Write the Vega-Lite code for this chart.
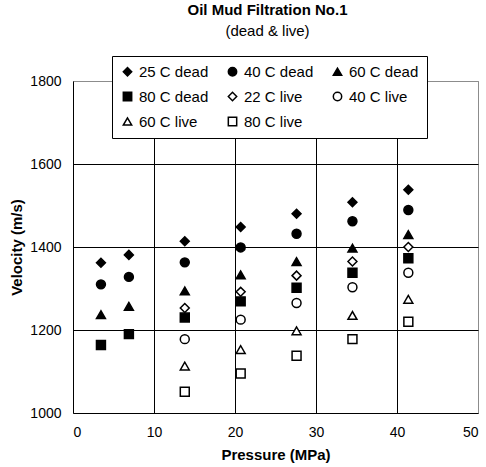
{
  "$schema": "https://vega.github.io/schema/vega-lite/v6.json",
  "width": 405,
  "height": 332,
  "autosize": {"type": "none"},
  "padding": {"left": 73, "top": 81, "right": 8, "bottom": 54},
  "background": "white",
  "title": {
    "text": "Oil Mud Filtration No.1",
    "subtitle": "(dead & live)",
    "anchor": "middle",
    "dx": -8,
    "offset": 17,
    "font": "Liberation Sans",
    "fontSize": 15,
    "fontWeight": "bold",
    "color": "black",
    "subtitleFont": "Liberation Sans",
    "subtitleFontSize": 15,
    "subtitleColor": "black",
    "subtitlePadding": 6
  },
  "config": {
    "view": {"stroke": "#8c8c8c", "strokeWidth": 1},
    "axis": {
      "labelFont": "Liberation Sans",
      "labelFontSize": 14,
      "labelColor": "black",
      "titleFont": "Liberation Sans",
      "titleFontSize": 15,
      "titleFontWeight": "bold",
      "titleColor": "black",
      "domainColor": "black",
      "domainWidth": 1,
      "ticks": false,
      "gridColor": "black",
      "gridWidth": 1,
      "gridOpacity": 1
    },
    "legend": {
      "labelFont": "Liberation Sans",
      "labelFontSize": 15,
      "labelColor": "black"
    }
  },
  "data": {
    "values": [
      {"p": 3.45, "v": 1362, "s": "25 C dead"},
      {"p": 6.9, "v": 1381, "s": "25 C dead"},
      {"p": 13.8, "v": 1414, "s": "25 C dead"},
      {"p": 20.7, "v": 1448, "s": "25 C dead"},
      {"p": 27.6, "v": 1480, "s": "25 C dead"},
      {"p": 34.5, "v": 1508, "s": "25 C dead"},
      {"p": 41.4, "v": 1538, "s": "25 C dead"},
      {"p": 3.45, "v": 1310, "s": "40 C dead"},
      {"p": 6.9, "v": 1328, "s": "40 C dead"},
      {"p": 13.8, "v": 1363, "s": "40 C dead"},
      {"p": 20.7, "v": 1399, "s": "40 C dead"},
      {"p": 27.6, "v": 1432, "s": "40 C dead"},
      {"p": 34.5, "v": 1462, "s": "40 C dead"},
      {"p": 41.4, "v": 1489, "s": "40 C dead"},
      {"p": 3.45, "v": 1237, "s": "60 C dead"},
      {"p": 6.9, "v": 1257, "s": "60 C dead"},
      {"p": 13.8, "v": 1294, "s": "60 C dead"},
      {"p": 20.7, "v": 1333, "s": "60 C dead"},
      {"p": 27.6, "v": 1365, "s": "60 C dead"},
      {"p": 34.5, "v": 1397, "s": "60 C dead"},
      {"p": 41.4, "v": 1430, "s": "60 C dead"},
      {"p": 3.45, "v": 1164, "s": "80 C dead"},
      {"p": 6.9, "v": 1190, "s": "80 C dead"},
      {"p": 13.8, "v": 1230, "s": "80 C dead"},
      {"p": 20.7, "v": 1269, "s": "80 C dead"},
      {"p": 27.6, "v": 1302, "s": "80 C dead"},
      {"p": 34.5, "v": 1338, "s": "80 C dead"},
      {"p": 41.4, "v": 1373, "s": "80 C dead"},
      {"p": 13.8, "v": 1253, "s": "22 C live"},
      {"p": 20.7, "v": 1292, "s": "22 C live"},
      {"p": 27.6, "v": 1331, "s": "22 C live"},
      {"p": 34.5, "v": 1365, "s": "22 C live"},
      {"p": 41.4, "v": 1400, "s": "22 C live"},
      {"p": 13.8, "v": 1178, "s": "40 C live"},
      {"p": 20.7, "v": 1225, "s": "40 C live"},
      {"p": 27.6, "v": 1265, "s": "40 C live"},
      {"p": 34.5, "v": 1303, "s": "40 C live"},
      {"p": 41.4, "v": 1338, "s": "40 C live"},
      {"p": 13.8, "v": 1113, "s": "60 C live"},
      {"p": 20.7, "v": 1153, "s": "60 C live"},
      {"p": 27.6, "v": 1198, "s": "60 C live"},
      {"p": 34.5, "v": 1235, "s": "60 C live"},
      {"p": 41.4, "v": 1274, "s": "60 C live"},
      {"p": 13.8, "v": 1051, "s": "80 C live"},
      {"p": 20.7, "v": 1095, "s": "80 C live"},
      {"p": 27.6, "v": 1138, "s": "80 C live"},
      {"p": 34.5, "v": 1178, "s": "80 C live"},
      {"p": 41.4, "v": 1220, "s": "80 C live"}
    ]
  },
  "mark": {"type": "point", "filled": true, "stroke": "black", "strokeWidth": 1.5, "opacity": 1, "size": 80},
  "encoding": {
    "x": {
      "field": "p",
      "type": "quantitative",
      "title": "Pressure (MPa)",
      "scale": {"domain": [0, 50], "nice": false},
      "axis": {
        "values": [0, 10, 20, 30, 40, 50],
        "format": "d",
        "labelPadding": 12,
        "titlePadding": 8,
        "gridColor": {"condition": {"test": "datum.value == 50 || datum.value == 0", "value": "#8c8c8c"}, "value": "black"}
      }
    },
    "y": {
      "field": "v",
      "type": "quantitative",
      "title": "Velocity (m/s)",
      "scale": {"domain": [1000, 1800], "nice": false},
      "axis": {
        "values": [1000, 1200, 1400, 1600, 1800],
        "format": "d",
        "labelPadding": 12,
        "titlePadding": 5,
        "gridColor": {"condition": {"test": "datum.value == 1800 || datum.value == 1000", "value": "#8c8c8c"}, "value": "black"}
      }
    },
    "shape": {
      "field": "s",
      "type": "nominal",
      "scale": {
        "domain": ["25 C dead", "40 C dead", "60 C dead", "80 C dead", "22 C live", "40 C live", "60 C live", "80 C live"],
        "range": ["diamond", "circle", "triangle-up", "square", "diamond", "circle", "triangle-up", "square"]
      },
      "legend": {
        "title": null,
        "orient": "none",
        "legendX": 39,
        "legendY": -25,
        "direction": "horizontal",
        "columns": 3,
        "padding": 8,
        "rowPadding": 9,
        "columnPadding": 16,
        "labelOffset": 4,
        "symbolSize": 70,
        "strokeColor": "black",
        "fillColor": "white",
        "zindex": 1,
        "encode": {"symbols": {"update": {"stroke": {"value": "black"}, "strokeWidth": {"value": 1.5}, "opacity": {"value": 1}}}}
      }
    },
    "fill": {
      "field": "s",
      "type": "nominal",
      "scale": {
        "domain": ["25 C dead", "40 C dead", "60 C dead", "80 C dead", "22 C live", "40 C live", "60 C live", "80 C live"],
        "range": ["black", "black", "black", "black", "white", "white", "white", "white"]
      },
      "legend": {
        "title": null,
        "orient": "none",
        "legendX": 39,
        "legendY": -25,
        "direction": "horizontal",
        "columns": 3,
        "padding": 8,
        "rowPadding": 9,
        "columnPadding": 16,
        "labelOffset": 4,
        "symbolSize": 70,
        "strokeColor": "black",
        "fillColor": "white",
        "zindex": 1,
        "encode": {"symbols": {"update": {"stroke": {"value": "black"}, "strokeWidth": {"value": 1.5}, "opacity": {"value": 1}}}}
      }
    }
  }
}
